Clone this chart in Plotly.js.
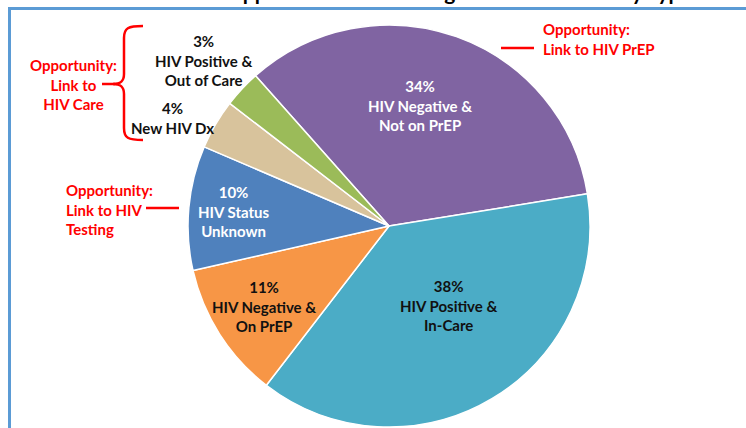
<!DOCTYPE html>
<html>
<head>
<meta charset="utf-8">
<script src="https://cdn.plot.ly/plotly-3.0.1.min.js"></script>
<style>html,body{margin:0;padding:0;background:#fff}#chart{width:746px;height:428px}</style>
</head>
<body>
<div id="chart"></div>
<script>
// ---- data ----
var categories = ["HIV Negative & Not on PrEP", "HIV Positive & In-Care", "HIV Negative & On PrEP", "HIV Status Unknown", "New HIV Dx", "HIV Positive & Out of Care"];
var shares = [34, 38, 11, 10, 4, 3];
var sliceColors = ["#8064A2", "#4BACC6", "#F79646", "#4F81BD", "#D8C39C", "#9BBB59"];
var labelLines = [["HIV Negative &", "Not on PrEP"], ["HIV Positive &", "In-Care"], ["HIV Negative &", "On PrEP"], ["HIV Status", "Unknown"], ["New HIV Dx"], ["HIV Positive &", "Out of Care"]];
var labelColors = ["#ffffff", "#111111", "#111111", "#ffffff", "#111111", "#111111"];
var labelPos = [[420, 106], [449, 305], [264, 306], [234, 211], [172, 118], [203, 60]];
var titleText = "Opportunities for Linkage to HIV Services by Type";

var W = 746, H = 428;
function px(x){ return x / W; }
function py(y){ return 1 - y / H; }

var cx = 389, cy = 226, R = 201;

var trace = {
  type: "pie",
  labels: categories,
  values: shares,
  sort: false,
  direction: "clockwise",
  rotation: -41.6,
  marker: {colors: sliceColors, line: {color: "#ffffff", width: 1.5}},
  textinfo: "none",
  hoverinfo: "none",
  domain: {x: [px(cx - R), px(cx + R)], y: [py(cy + R), py(cy - R)]}
};

var FONT = "Lato, 'Open Sans', 'DejaVu Sans', sans-serif";
var annotations = [];
for (var i = 0; i < categories.length; i++) {
  annotations.push({
    xref: "paper", yref: "paper",
    x: px(labelPos[i][0]), y: py(labelPos[i][1]),
    xanchor: "center", yanchor: "middle",
    text: "<b>" + [shares[i] + "%"].concat(labelLines[i]).join("<br>") + "</b>",
    showarrow: false, align: "center",
    font: {family: FONT, size: 15, color: labelColors[i]}
  });
}
var red = "#FF0000";
annotations.push({xref:"paper",yref:"paper",x:px(73),y:py(84),xanchor:"center",yanchor:"middle",align:"center",showarrow:false,
  text:"<b>Opportunity:<br>Link to<br>HIV Care</b>",font:{family:FONT,size:15,color:red}});
annotations.push({xref:"paper",yref:"paper",x:px(64),y:py(209),xanchor:"left",yanchor:"middle",align:"left",showarrow:false,
  text:"<b>Opportunity:<br>Link to HIV<br>Testing</b>",font:{family:FONT,size:15,color:red}});
annotations.push({xref:"paper",yref:"paper",x:px(541),y:py(39),xanchor:"left",yanchor:"middle",align:"left",showarrow:false,
  text:"<b>Opportunity:<br>Link to HIV PrEP</b>",font:{family:FONT,size:15,color:red}});
// clipped slide title (only descenders visible)
annotations.push({xref:"paper",yref:"paper",x:px(224),y:py(6),xanchor:"left",yanchor:"bottom",align:"left",showarrow:false,
  text:"<b>" + titleText + "</b>",font:{family:FONT,size:21,color:"#000000"}});

function P(x, y){ return px(x).toFixed(5) + "," + py(y).toFixed(5); }
var bracket = "M" + P(143,26) + " C" + P(128,26) + " " + P(124,28) + " " + P(124,38) +
  " L" + P(124,74) + " C" + P(124,82) + " " + P(120,84) + " " + P(113,84) +
  " C" + P(120,84) + " " + P(124,86) + " " + P(124,94) +
  " L" + P(124,128) + " C" + P(124,138) + " " + P(128,140) + " " + P(143,140);

var shapes = [
  {type:"rect", xref:"paper", yref:"paper", x0:px(9.5), y0:py(8.5), x1:1.2, y1:-0.2, line:{color:"#5B9BD5", width:3}, fillcolor:"rgba(0,0,0,0)", layer:"below"},
  {type:"path", xref:"paper", yref:"paper", path:bracket, line:{color:red, width:2.5}},
  {type:"line", xref:"paper", yref:"paper", x0:px(102), y0:py(84), x1:px(115), y1:py(84), line:{color:red, width:2.5}},
  {type:"line", xref:"paper", yref:"paper", x0:px(146), y0:py(208), x1:px(179), y1:py(208), line:{color:red, width:2.5}},
  {type:"line", xref:"paper", yref:"paper", x0:px(501), y0:py(48), x1:px(534), y1:py(48), line:{color:red, width:2.5}}
];

var layout = {
  width: W, height: H,
  margin: {l:0, r:0, t:0, b:0},
  paper_bgcolor: "#ffffff",
  showlegend: false,
  annotations: annotations,
  shapes: shapes
};
Plotly.newPlot("chart", [trace], layout, {staticPlot: true, displayModeBar: false});
</script>
</body>
</html>
